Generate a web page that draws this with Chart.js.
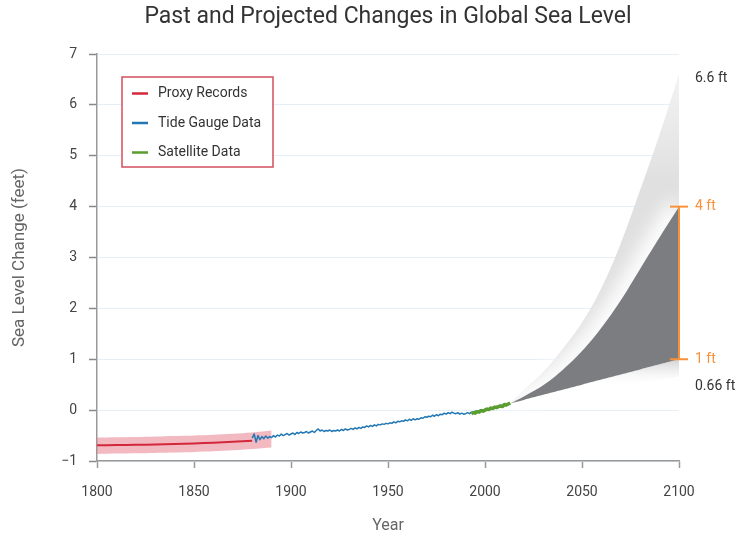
<!DOCTYPE html>
<html><head><meta charset="utf-8">
<script src="https://cdn.jsdelivr.net/npm/chart.js@4"></script>
<style>html,body{margin:0;padding:0;background:#fff}canvas{display:block}</style>
</head><body>
<canvas id="c" width="740" height="536"></canvas>
<script>
const titleText = 'Past and Projected Changes in Global Sea Level';
const xAxisTitle = 'Year';
const yAxisTitle = 'Sea Level Change (feet)';
const xTicks = [1800, 1850, 1900, 1950, 2000, 2050, 2100];
const yTicks = [-1, 0, 1, 2, 3, 4, 5, 6, 7];

const legendLabels = ['Proxy Records', 'Tide Gauge Data', 'Satellite Data'];

const proxyYears = [1800, 1810, 1820, 1830, 1840, 1850, 1860, 1870, 1880];
const proxyValues = [-0.69, -0.687, -0.682, -0.675, -0.666, -0.655, -0.641, -0.623, -0.60];
const proxyBandYears = [1800, 1810, 1820, 1830, 1840, 1850, 1860, 1870, 1880, 1890];
const proxyBandUpper = [-0.54, -0.535, -0.53, -0.52, -0.51, -0.50, -0.485, -0.465, -0.44, -0.40];
const proxyBandLower = [-0.86, -0.855, -0.85, -0.843, -0.834, -0.822, -0.808, -0.79, -0.765, -0.735];

const tideStartYear = 1880;
const tideValues = [
 -0.55,-0.47,-0.63,-0.50,-0.58,-0.52,-0.56,-0.51,-0.55,-0.52,
 -0.54,-0.50,-0.53,-0.49,-0.51,-0.47,-0.50,-0.48,-0.46,-0.49,
 -0.47,-0.45,-0.48,-0.44,-0.46,-0.43,-0.45,-0.44,-0.42,-0.45,
 -0.43,-0.41,-0.44,-0.40,-0.37,-0.41,-0.39,-0.42,-0.40,-0.41,
 -0.39,-0.42,-0.40,-0.41,-0.39,-0.41,-0.38,-0.40,-0.37,-0.39,
 -0.38,-0.36,-0.38,-0.35,-0.37,-0.34,-0.36,-0.33,-0.34,-0.31,
 -0.33,-0.30,-0.32,-0.29,-0.31,-0.28,-0.29,-0.27,-0.28,-0.26,
 -0.27,-0.25,-0.26,-0.23,-0.25,-0.22,-0.23,-0.21,-0.22,-0.19,
 -0.21,-0.18,-0.20,-0.17,-0.19,-0.17,-0.18,-0.15,-0.16,-0.13,
 -0.14,-0.12,-0.13,-0.10,-0.12,-0.09,-0.11,-0.08,-0.09,-0.06,
 -0.08,-0.05,-0.07,-0.04,-0.06,-0.07,-0.05,-0.08,-0.06,-0.08,
 -0.07,-0.05,-0.07,-0.04,-0.05,-0.02,-0.03,-0.01,0.01,-0.01,
 0.01,0.03,0.02,0.05,0.04,0.06,0.07,0.06,0.09,0.08,
 0.11,0.10,0.13
];

const satStartYear = 1993;
const satValues = [-0.07,-0.05,-0.06,-0.03,-0.04,-0.01,-0.02,0.00,0.02,0.01,0.04,0.03,0.06,0.05,0.07,0.08,0.07,0.11,0.10,0.12,0.14];

const projYears   = [2013, 2020, 2030, 2040, 2050, 2060, 2070, 2080, 2090, 2100];
const projHighest = [0.13, 0.40, 0.75, 1.20, 1.72, 2.40, 3.28, 4.33, 5.42, 6.6];
const projIntHigh = [0.13, 0.27, 0.49, 0.79, 1.16, 1.62, 2.16, 2.78, 3.40, 4.0];
const projIntLow  = [0.13, 0.20, 0.30, 0.40, 0.50, 0.60, 0.70, 0.80, 0.90, 1.0];
const projLowest  = [0.13, 0.18, 0.24, 0.30, 0.36, 0.42, 0.48, 0.54, 0.60, 0.66];

const rangeYear = 2100;
const rangeValues = [1, 4];
const rangeLabels = ['1 ft', '4 ft'];
const extremeValues = [6.6, 0.66];
const extremeLabels = ['6.6 ft', '0.66 ft'];

const COL = {
  red: '#d3283b', pink: 'rgba(232,128,142,0.55)', blue: '#2178b5', green: '#5a9e2f',
  dark: '#7c7d81', lightband: '#e2e2e2', orange: '#f7923a', text: '#333'
};
const FONT = 'Roboto';

const pts = (xs, ys) => xs.map((x, i) => ({x, y: ys[i]}));
const seq = (start, ys) => ys.map((y, i) => ({x: start + i, y}));

const lowerGrad = (context) => {
  const ch = context.chart; const area = ch.chartArea; if (!area) return COL.lightband;
  const ys = ch.scales.y;
  const g = ch.ctx.createLinearGradient(0, ys.getPixelForValue(1.0), 0, ys.getPixelForValue(0.45));
  g.addColorStop(0, 'rgba(205,205,205,0.9)');
  g.addColorStop(1, 'rgba(255,255,255,0)');
  return g;
};
const upperGrad = (context) => {
  const ch = context.chart; const area = ch.chartArea; if (!area) return COL.lightband;
  const ys = ch.scales.y;
  const g = ch.ctx.createLinearGradient(0, ys.getPixelForValue(6.7), 0, ys.getPixelForValue(4.5));
  g.addColorStop(0, '#f4f4f4');
  g.addColorStop(1, '#e0e0e0');
  return g;
};

const SMOOTH = 0.4;
const datasets = [
  {label: legendLabels[2], data: seq(satStartYear, satValues), borderColor: COL.green, borderWidth: 3.5, pointRadius: 0, fill: false, order: 0},
  {label: legendLabels[1], data: seq(tideStartYear, tideValues), borderColor: COL.blue, borderWidth: 1.5, pointRadius: 0, fill: false, order: 1},
  {label: legendLabels[0], data: pts(proxyYears, proxyValues), borderColor: COL.red, borderWidth: 2, pointRadius: 0, fill: false, tension: 0.3, order: 2},
  {label: 'bandU', data: pts(proxyBandYears, proxyBandUpper), borderWidth: 0, pointRadius: 0, fill: 4, backgroundColor: COL.pink, tension: 0.3, order: 3},
  {label: 'bandL', data: pts(proxyBandYears, proxyBandLower), borderWidth: 0, pointRadius: 0, fill: false, tension: 0.3, order: 4},
  {label: 'range', data: pts([rangeYear, rangeYear], rangeValues), borderColor: COL.orange, borderWidth: 2, pointStyle: 'line', pointRadius: 9, pointBorderWidth: 2, pointBorderColor: COL.orange, fill: false, order: 0, clip: false},
  {label: 'intHigh', data: pts(projYears, projIntHigh), borderWidth: 0, pointRadius: 0, fill: 8, backgroundColor: COL.dark, tension: SMOOTH, order: 5},
  {label: 'glow', glow: true, data: pts(projYears, projIntHigh), borderColor: '#ffffff', borderWidth: 22, pointRadius: 0, fill: false, tension: SMOOTH, order: 6},
  {label: 'intLow', data: pts(projYears, projIntLow), borderWidth: 0, pointRadius: 0, fill: 10, backgroundColor: lowerGrad, tension: SMOOTH, order: 8},
  {label: 'highest', data: pts(projYears, projHighest), borderWidth: 0, pointRadius: 0, fill: 6, backgroundColor: upperGrad, tension: SMOOTH, order: 7},
  {label: 'lowest', data: pts(projYears, projLowest), borderWidth: 0, pointRadius: 0, fill: false, tension: SMOOTH, order: 9}
];

const glowPlugin = {
  id: 'glow',
  beforeDatasetDraw(chart, args) {
    if (chart.data.datasets[args.index].glow) {
      chart.ctx.save(); chart.ctx.filter = 'blur(9px)';
    }
  },
  afterDatasetDraw(chart, args) {
    if (chart.data.datasets[args.index].glow) chart.ctx.restore();
  }
};

const annotPlugin = {
  id: 'annot',
  afterDraw(chart) {
    const c = chart.ctx, xs = chart.scales.x, ys = chart.scales.y, a = chart.chartArea;
    c.save();
    c.fillStyle = '#333'; c.font = `23px ${FONT}`; c.textAlign = 'center'; c.textBaseline = 'middle';
    c.fillText(titleText, (a.left + a.right) / 2, 17);
    const lx = xs.getPixelForValue(rangeYear) + 16;
    c.textAlign = 'left'; c.font = `14px ${FONT}`;
    c.fillStyle = COL.orange;
    rangeValues.forEach((v, i) => c.fillText(rangeLabels[i], lx, ys.getPixelForValue(v)));
    c.fillStyle = COL.text;
    c.fillText(extremeLabels[0], lx, ys.getPixelForValue(extremeValues[0]) + 4);
    c.fillText(extremeLabels[1], lx, ys.getPixelForValue(extremeValues[1]) + 10);
    const bx = 122, by = 77, bw = 151, bh = 90;
    c.fillStyle = '#fff'; c.fillRect(bx, by, bw, bh);
    c.strokeStyle = '#d24f5c'; c.lineWidth = 1.5; c.strokeRect(bx, by, bw, bh);
    const cols = [COL.red, COL.blue, COL.green];
    c.font = `14px ${FONT}`; c.textBaseline = 'middle';
    legendLabels.forEach((t, i) => {
      const y = by + 16.5 + i * 29.5;
      c.strokeStyle = cols[i]; c.lineWidth = 2.5;
      c.beginPath(); c.moveTo(bx + 10, y); c.lineTo(bx + 26, y); c.stroke();
      c.fillStyle = COL.text; c.fillText(t, bx + 36, y);
    });
    c.restore();
  }
};

new Chart(document.getElementById('c'), {
  type: 'line',
  data: {datasets},
  plugins: [glowPlugin, annotPlugin],
  options: {
    responsive: false, animation: false, devicePixelRatio: 1,
    layout: {padding: {left: 0, right: 61, top: 54, bottom: 0}},
    plugins: {legend: {display: false}, tooltip: {enabled: false}, title: {display: false}},
    elements: {line: {borderJoinStyle: 'round'}},
    scales: {
      x: {
        type: 'linear', min: 1800, max: 2100,
        afterFit: s => { s.height = 75; },
        afterBuildTicks: s => { s.ticks = xTicks.map(v => ({value: v})); },
        grid: {drawOnChartArea: false, drawTicks: true, tickLength: 7, tickColor: '#999', tickWidth: 1.5},
        border: {color: '#999', width: 1.5},
        ticks: {color: '#444', font: {family: FONT, size: 14}, padding: 16, maxRotation: 0, callback: v => String(v)},
        title: {display: true, text: xAxisTitle, color: '#666', font: {family: FONT, size: 16}, padding: {top: 0, bottom: 0}}
      },
      y: {
        type: 'linear', min: -1, max: 7,
        afterFit: s => { s.width = 97; },
        afterBuildTicks: s => { s.ticks = yTicks.map(v => ({value: v})); },
        grid: {color: '#e4eff8', lineWidth: 1, drawTicks: true, tickLength: 8, tickColor: '#888', tickWidth: 1.5},
        border: {color: '#999', width: 1.5},
        ticks: {color: '#444', font: {family: FONT, size: 14}, padding: 12, callback: v => String(v).replace('-', '\u2212')},
        title: {display: true, text: yAxisTitle, color: '#666', font: {family: FONT, size: 17}, padding: {top: 10, bottom: 0}}
      }
    }
  }
});
</script>
</body></html>
